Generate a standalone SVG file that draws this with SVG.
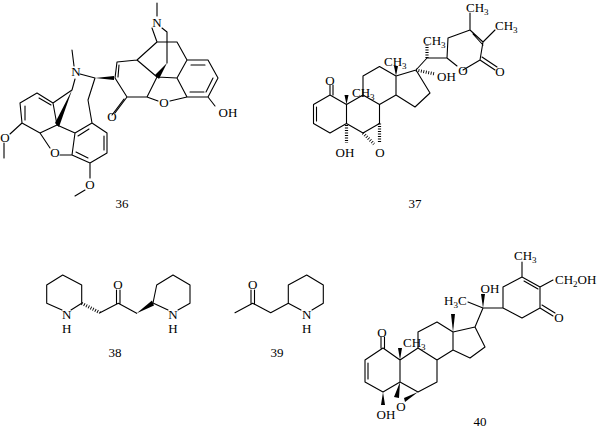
<svg xmlns="http://www.w3.org/2000/svg" width="600" height="438" viewBox="0 0 600 438">
<style>
.b{stroke:#000;stroke-width:1.1;fill:none;stroke-linecap:round;stroke-linejoin:round}
.h{stroke:#000;stroke-width:3.2;stroke-dasharray:0.9 1.6;fill:none}
.w{fill:#000;stroke:none}
text{font-family:"Liberation Serif",serif;font-size:13px;fill:#000}
.l{text-anchor:middle}
.s{font-size:9px}
</style>
<rect width="600" height="438" fill="#fff"/>
<g id="c36">
<path class="b" d="M157,3L157,16M152,28L157,42L137,60M162,28L167,32L167,63M157,42L177,42L187,60L208,60L218,78L208,97L187,97L177,78L187,60M191,65L205,65M213,78L206,92M190,92L204,92M177,78L157,77L137,60L117,62L115,78L127,97L147,97L157,77M119,65L118,77M127,97L115,113M124,99L112,115M208,97L215,106M187,97L170,101M158,101L147,97"/>
<polygon class="w" points="167,63 155,75 159,79"/>
<text x="157" y="27" class="l">N</text>
<text x="164" y="107" class="l">O</text>
<text x="112" y="121" class="l">O</text>
<text x="228" y="117" class="l">OH</text>
<polygon class="w" points="95,78 114,76 114,80"/>
<path class="b" d="M72,50L74,66M80,74L95,78M75,79L72,90L53,103M95,78L88,100L92,123M20,103L37,93L53,103L57,125L40,133L22,123L20,103M25,106L25,120M39,98L51,105M57,125L75,133L92,123L107,133L107,153L90,163L72,155L75,133M104,136L104,150M78,136L89,129M88,158L76,152M40,133L50,148M60,155L72,155M22,123L10,134M4,143L4,158M90,163L90,178M85,190L75,196"/>
<polygon class="w" points="72,90 55,123 59,127"/>
<text x="76" y="76" class="l">N</text>
<text x="5" y="142" class="l">O</text>
<text x="55" y="157" class="l">O</text>
<text x="90" y="189" class="l">O</text>
<text x="122" y="208" class="l">36</text>
</g>
<g id="c37">
<path class="b" d="M330,95L313.5,104.5L313.5,123.5L330,133L346.5,123.5L346.5,104.5L330,95M316.5,107L316.5,121M330,95L330,85M333,95L333,85M346.5,104.5L363,95L379.5,104.5L379.5,123.5L363,133L346.5,123.5M363,95L363,76L379.5,66.5L396,76L396,95L379.5,104.5M396,95L415,107L430,93L416,70L396,76M416,70L427,58L447,58L448,38L470,30L483,42L480,60L463,70M447,58L457,66M470,30L470,13M483,42L495,30M473,34L483,45M480,60L495,70M482,57L497,67"/>
<polygon class="w" points="346.5,104.5 344.5,95 348.5,95"/>
<polygon class="w" points="396,76 394,66 398,66"/>
<path class="h" d="M346.5,125L346.5,143M363,133L374,144M379.5,123.5L379.5,143M416,70L435,74M427,58L427,45"/>
<text x="330" y="85" class="l">O</text>
<text x="352" y="97">CH<tspan class="s" dy="3">3</tspan></text>
<text x="384" y="66">CH<tspan class="s" dy="3">3</tspan></text>
<text x="423" y="45">CH<tspan class="s" dy="3">3</tspan></text>
<text x="437" y="81">OH</text>
<text x="463" y="75" class="l">O</text>
<text x="500" y="76" class="l">O</text>
<text x="466" y="12">CH<tspan class="s" dy="3">3</tspan></text>
<text x="495" y="30">CH<tspan class="s" dy="3">3</tspan></text>
<text x="345" y="157" class="l">OH</text>
<text x="380" y="157" class="l">O</text>
<text x="415" y="208" class="l">37</text>
</g>
<g id="c38">
<path class="b" d="M46.7,285L62.7,275L81.7,285L81.7,303.3L71,310M62,310L46.7,303.3L46.7,285M100,312.7L118.3,303.3L136.7,313.3M116.5,303.3L116.5,290M120,303.3L120,290M153,303L156.7,285L173,275L190,285L190,303.3L178,310M168,310L153,303"/>
<path class="h" d="M81.7,303.3L100,312.7"/>
<polygon class="w" points="136.7,313.3 152,300.5 154,305.5"/>
<text x="118" y="289" class="l">O</text>
<text x="66.7" y="319" class="l">N</text>
<text x="66.7" y="333" class="l">H</text>
<text x="173" y="319" class="l">N</text>
<text x="173" y="333" class="l">H</text>
<text x="115" y="357" class="l">38</text>
</g>
<g id="c39">
<path class="b" d="M235,312.7L252.7,303.3L270.7,312.7L288.3,303.3L288.3,285L306.7,275L323.3,285L323.3,303.3L312,310M301,310L288.3,303.3M251,303.3L251,290M254.5,303.3L254.5,290"/>
<text x="252.7" y="289" class="l">O</text>
<text x="306.7" y="319" class="l">N</text>
<text x="306.7" y="333" class="l">H</text>
<text x="277" y="357" class="l">39</text>
</g>
<g id="c40">
<path class="b" d="M383,348L365,360L365,382L383,392L400,382L400,360L383,348M368,363L368,379M381,348L381,337M384.5,348L384.5,337M400,360L418,348L437,360L437,382L418,392L400,382M418,348L418,332L437,322L453,332L453,350L437,360M453,350L470,358L485,347L475,327L453,332M475,327L483,308L503,308L503,287L522,277L540,287L540,308L522,318L503,308M524,281L538,289M522,277L522,262M540,287L553,280M540,308L553,316M542,305L555,313M483,308L468,302"/>
<polygon class="w" points="400,360 398,348 402,348"/>
<polygon class="w" points="453,332 451,314 455,314"/>
<polygon class="w" points="400,382 394,397 399,398"/>
<polygon class="w" points="418,392 404,398 405,402"/>
<polygon class="w" points="383,392 381,405 385,405"/>
<polygon class="w" points="483,308 481,294 485,294"/>
<text x="382" y="337" class="l">O</text>
<text x="403" y="347">CH<tspan class="s" dy="3">3</tspan></text>
<text x="401" y="411" class="l">O</text>
<text x="386" y="419" class="l">OH</text>
<text x="444" y="305">H<tspan class="s" dy="3">3</tspan><tspan dy="-3">C</tspan></text>
<text x="490" y="293" class="l">OH</text>
<text x="514" y="260">CH<tspan class="s" dy="3">3</tspan></text>
<text x="555" y="284">CH<tspan class="s" dy="3">2</tspan><tspan dy="-3">OH</tspan></text>
<text x="559" y="322" class="l">O</text>
<text x="480" y="426" class="l">40</text>
</g>
</svg>
